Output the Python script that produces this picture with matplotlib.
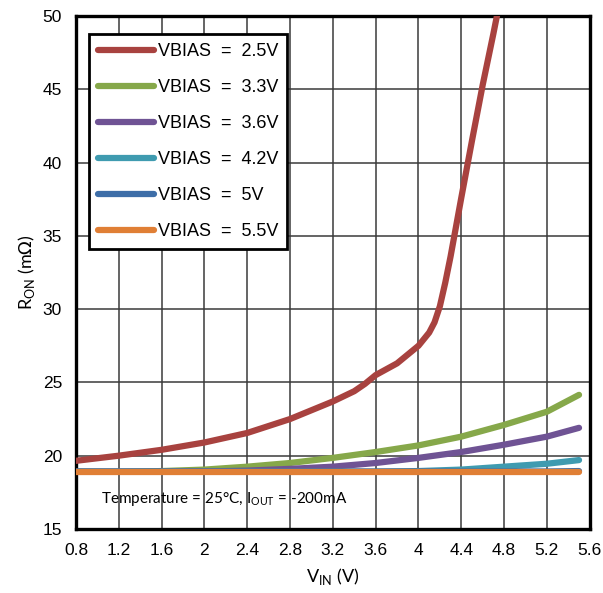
import matplotlib
matplotlib.use('Agg')
import matplotlib.pyplot as plt

# VIN sample points (V) for each curve
vin_red = [0.8, 1.2, 1.6, 2.0, 2.4, 2.8, 3.2, 3.4, 3.5, 3.6, 3.8, 4.0, 4.1, 4.15, 4.2, 4.25, 4.3, 4.4, 4.5, 4.6, 4.7, 4.76]
ron_red = [19.65, 20.0, 20.4, 20.9, 21.55, 22.5, 23.7, 24.4, 24.9, 25.5, 26.3, 27.5, 28.4, 29.1, 30.2, 31.8, 33.6, 37.6, 41.5, 45.3, 48.8, 51.0]

vin = [0.8, 1.2, 1.6, 2.0, 2.4, 2.8, 3.2, 3.6, 4.0, 4.4, 4.8, 5.2, 5.5]
ron_33 = [18.9, 18.9, 18.95, 19.05, 19.25, 19.5, 19.85, 20.25, 20.7, 21.3, 22.1, 23.0, 24.15]
ron_36 = [18.9, 18.9, 18.9, 18.92, 18.98, 19.1, 19.25, 19.5, 19.85, 20.25, 20.75, 21.3, 21.9]
ron_42 = [18.9, 18.9, 18.9, 18.9, 18.9, 18.9, 18.9, 18.9, 18.95, 19.05, 19.25, 19.45, 19.7]
ron_50 = [18.92, 18.92, 18.92, 18.92, 18.92, 18.92, 18.92, 18.92, 18.92, 18.92, 18.92, 18.92, 18.95]
ron_55 = [18.9] * 13

labels = ['VBIAS  =  2.5V', 'VBIAS  =  3.3V', 'VBIAS  =  3.6V',
          'VBIAS  =  4.2V', 'VBIAS  =  5V', 'VBIAS  =  5.5V']
colors = ['#a8423f', '#86a84a', '#6f5394', '#3f9bb0', '#3e6ea8', '#e07f35']

xticks = [0.8, 1.2, 1.6, 2, 2.4, 2.8, 3.2, 3.6, 4, 4.4, 4.8, 5.2, 5.6]
xticklabels = ['0.8', '1.2', '1.6', '2', '2.4', '2.8', '3.2', '3.6', '4', '4.4', '4.8', '5.2', '5.6']
yticks = [15, 20, 25, 30, 35, 40, 45, 50]

plt.rcParams['font.family'] = ['Liberation Sans', 'DejaVu Sans']

fig = plt.figure(figsize=(6.03, 5.93), dpi=100)
ax = fig.add_axes([0.126, 0.108, 0.852, 0.865])

series = [(vin_red, ron_red), (vin, ron_33), (vin, ron_36), (vin, ron_42), (vin, ron_50), (vin, ron_55)]
handles = []
for (xs, ys), lab, c in zip(series, labels, colors):
  h, = ax.plot(xs, ys, color=c, lw=4.5, label=lab, solid_capstyle='round', zorder=3)
  handles.append(h)

ax.set_xlim(0.8, 5.6)
ax.set_ylim(15, 50)
ax.set_xticks(xticks)
ax.set_xticklabels(xticklabels)
ax.set_yticks(yticks)
ax.tick_params(labelsize=12.5, length=0, pad=10)
ax.grid(True, color='#3a3a3a', lw=1.1)
for s in ax.spines.values():
  s.set_linewidth(2.4)
  s.set_color('black')

ax.set_xlabel('V$_{\\mathregular{IN}}$ (V)', fontsize=13, family='Lato', labelpad=6)
ax.set_ylabel('R$_{\\mathregular{ON}}$ (m$\\Omega$)', fontsize=13, family='Lato', labelpad=4)

ax.text(1.03, 16.8, 'Temperature = 25°C, I$_{\\mathregular{OUT}}$ = -200mA', fontsize=11, family='Lato',
        zorder=2)

leg = ax.legend(handles=handles, loc='upper left', bbox_to_anchor=(0.015, 0.975), fontsize=13,
                frameon=True, fancybox=False, handlelength=3.1, handletextpad=0.2,
                labelspacing=1.05, borderpad=0.5, borderaxespad=0.3)
leg.get_frame().set_edgecolor('black')
leg.get_frame().set_linewidth(2)
leg.get_frame().set_alpha(1)

fig.savefig('out.png', dpi=100)
